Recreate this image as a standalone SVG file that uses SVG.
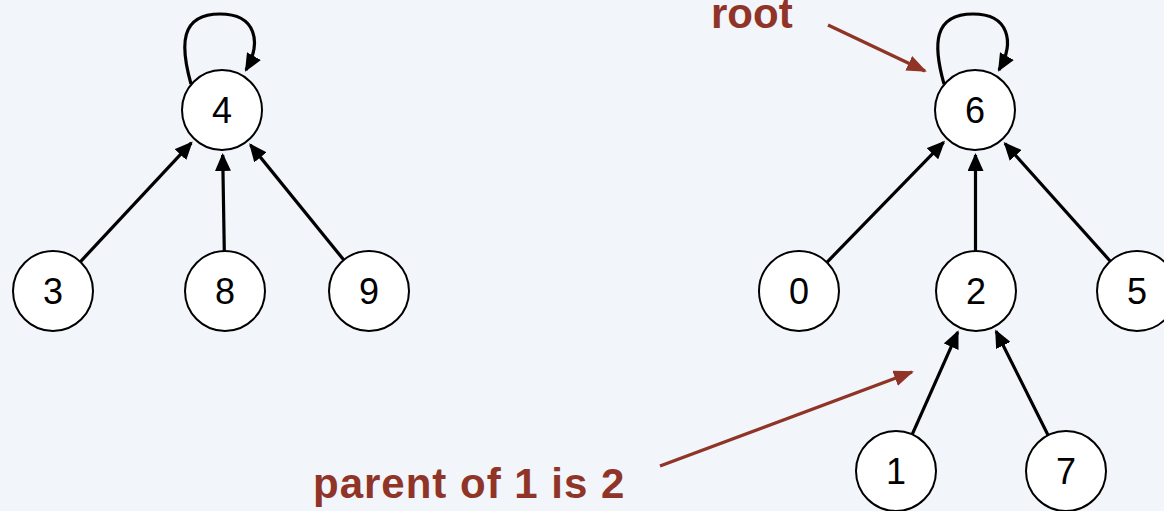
<svg xmlns="http://www.w3.org/2000/svg" width="1164" height="511" viewBox="0 0 1164 511">
<style>
.node circle{fill:#fff;stroke:#000;stroke-width:2}
.node text{font-family:"Liberation Sans",Arial,sans-serif;font-size:36px;fill:#000;text-anchor:middle}
.edge{fill:none;stroke:#000;stroke-width:3.2;marker-end:url(#ah)}
.note{fill:none;stroke:#8f3426;stroke-width:3.4;marker-end:url(#ahr)}
.lbl{font-family:"Liberation Sans",Arial,sans-serif;font-weight:bold;font-size:42px;fill:#8f3426}
</style>
<defs>
<marker id="ah" markerUnits="userSpaceOnUse" markerWidth="18" markerHeight="16" refX="16" refY="8" orient="auto"><path d="M0,0 L18,8 L0,16 z" fill="#000"/></marker>
<marker id="ahr" markerUnits="userSpaceOnUse" markerWidth="20" markerHeight="16" refX="18" refY="8" orient="auto"><path d="M0,0 L20,8 L0,16 z" fill="#8f3426"/></marker>
</defs>
<rect width="1164" height="511" fill="#f2f5f9"/>
<g id="connectors">
<path class="edge" d="M191,84 C180,45 180,14 220,14 C256,14 262,42 246,70"/>
<path class="edge" d="M80.3,261.8 L191.3,142.9"/>
<path class="edge" d="M224.3,251 L222.7,155"/>
<path class="edge" d="M343.8,260 L250.4,144.9"/>
<path class="edge" d="M944,84 C933,45 933,14 973,14 C1009,14 1015,42 999,70"/>
<path class="edge" d="M826.9,262.3 L943.6,142.3"/>
<path class="edge" d="M975.5,251 L975.5,155"/>
<path class="edge" d="M1110.3,261.2 L1005,143.5"/>
<path class="edge" d="M912.2,434.4 L957.7,332.1"/>
<path class="edge" d="M1048.1,435.2 L996.1,331.2"/>
<path class="note" d="M828,25 L925,71"/>
<path class="note" d="M660,466 L912,372"/>
</g>
<g id="node-4" class="node"><circle cx="222" cy="110" r="40"/><text x="222" y="123">4</text></g>
<g id="node-3" class="node"><circle cx="53" cy="291" r="40"/><text x="53" y="304">3</text></g>
<g id="node-8" class="node"><circle cx="225" cy="291" r="40"/><text x="225" y="304">8</text></g>
<g id="node-9" class="node"><circle cx="369" cy="291" r="40"/><text x="369" y="304">9</text></g>
<g id="node-6" class="node"><circle cx="975" cy="110" r="40"/><text x="975" y="123">6</text></g>
<g id="node-0" class="node"><circle cx="799" cy="291" r="40"/><text x="799" y="304">0</text></g>
<g id="node-2" class="node"><circle cx="976" cy="291" r="40"/><text x="976" y="304">2</text></g>
<g id="node-5" class="node"><circle cx="1137" cy="291" r="40"/><text x="1137" y="304">5</text></g>
<g id="node-1" class="node"><circle cx="896" cy="471" r="40"/><text x="896" y="484">1</text></g>
<g id="node-7" class="node"><circle cx="1066" cy="471" r="40"/><text x="1066" y="484">7</text></g>
<g id="labels">
<text class="lbl" x="711" y="28">root</text>
<text class="lbl" x="313" y="498" letter-spacing="1">parent of 1 is 2</text>
</g>
</svg>
